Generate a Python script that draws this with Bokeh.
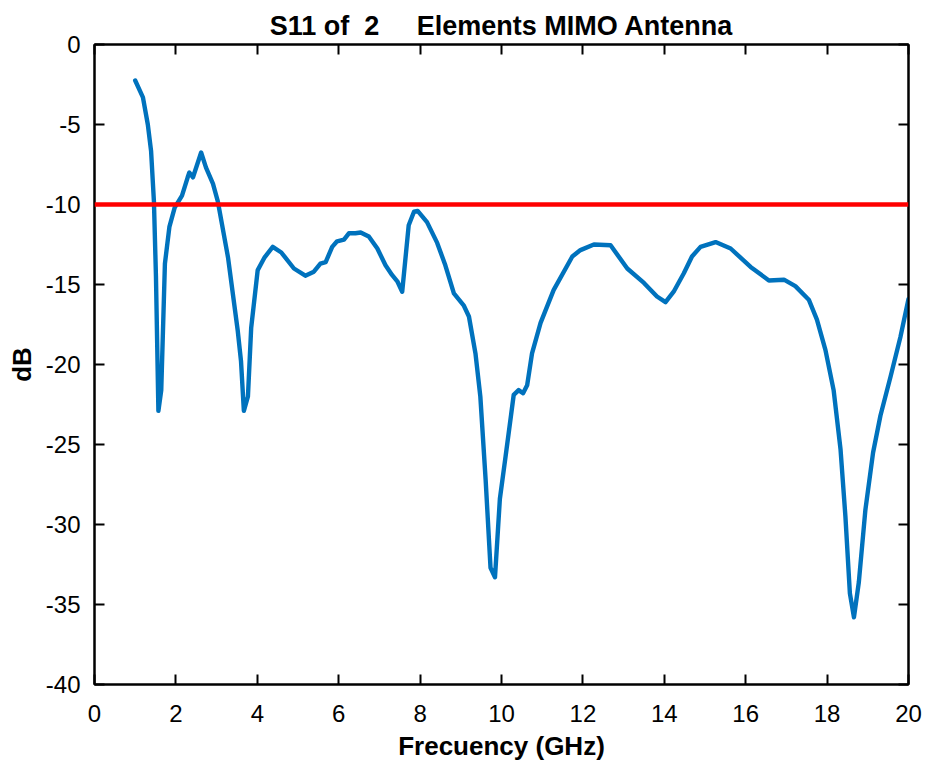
from bokeh.plotting import figure
from bokeh.models import LinearAxis, FixedTicker, Span, CustomJSTickFormatter, ColumnDataSource
from bokeh.embed import file_html
from bokeh.resources import INLINE

# ---- data ----
freq = [1.0, 1.19, 1.31, 1.39, 1.46, 1.51, 1.57, 1.64, 1.73, 1.84,
        1.97, 2.15, 2.29, 2.33, 2.42, 2.62, 2.74, 2.91, 3.03, 3.28,
        3.52, 3.6, 3.67, 3.77, 3.85, 4.01, 4.18, 4.38, 4.59, 4.9,
        5.18, 5.39, 5.55, 5.68, 5.84, 5.96, 6.13, 6.25, 6.41, 6.54,
        6.74, 6.95, 7.15, 7.31, 7.44, 7.56, 7.72, 7.85, 7.94, 8.17,
        8.42, 8.62, 8.83, 9.07, 9.2, 9.36, 9.48, 9.61, 9.73, 9.84,
        9.96, 10.1, 10.3, 10.42, 10.53, 10.63, 10.75, 10.96, 11.28, 11.74,
        11.94, 12.27, 12.68, 13.09, 13.5, 13.82, 14.03, 14.23, 14.48, 14.68,
        14.89, 15.26, 15.63, 16.12, 16.57, 16.94, 17.22, 17.55, 17.75, 17.96,
        18.16, 18.33, 18.45, 18.56, 18.66, 18.78, 18.94, 19.13, 19.31, 19.56,
        19.8, 20.0]
s11 = [-2.25, -3.3, -5.0, -6.65, -9.8, -14.5, -22.9, -21.6, -13.7, -11.4,
       -10.2, -9.45, -8.3, -8.0, -8.3, -6.75, -7.7, -8.7, -9.8, -13.3,
       -17.9, -19.8, -22.9, -22.0, -17.7, -14.1, -13.3, -12.65, -13.0, -14.0,
       -14.45, -14.2, -13.7, -13.6, -12.65, -12.3, -12.2, -11.8, -11.8, -11.75,
       -12.0, -12.75, -13.8, -14.4, -14.8, -15.45, -11.3, -10.45, -10.4, -11.1,
       -12.4, -13.8, -15.55, -16.3, -17.0, -19.3, -22.0, -27.2, -32.7, -33.3,
       -28.4, -25.75, -21.9, -21.6, -21.8, -21.3, -19.3, -17.4, -15.35, -13.25,
       -12.85, -12.5, -12.55, -14.0, -14.9, -15.75, -16.1, -15.45, -14.3, -13.25,
       -12.65, -12.35, -12.75, -13.9, -14.75, -14.7, -15.1, -15.95, -17.2, -19.1,
       -21.6, -25.3, -29.5, -34.3, -35.8, -33.6, -29.1, -25.5, -23.2, -20.75,
       -18.3, -15.9]
threshold_db = -10
x_ticks = [0, 2, 4, 6, 8, 10, 12, 14, 16, 18, 20]
x_tick_labels = ["0", "2", "4", "6", "8", "10", "12", "14", "16", "18", "20"]
y_ticks = [-40, -35, -30, -25, -20, -15, -10, -5, 0]
y_tick_labels = ["-40", "-35", "-30", "-25", "-20", "-15", "-10", "-5", "0"]
title_text = "S11 of\u00a0 2\u00a0\u00a0\u00a0\u00a0 Elements MIMO Antenna"

FONT = "Liberation Sans"

p = figure(width=936, height=763, x_range=(0, 20), y_range=(-40, 0),
           output_backend="svg", toolbar_location=None,
           min_border_left=94, min_border_right=28, min_border_top=44, min_border_bottom=78,
           title=title_text)
p.background_fill_color = "white"
p.border_fill_color = "white"
p.outline_line_color = "black"
p.outline_line_width = 2
p.xgrid.visible = False
p.ygrid.visible = False

p.title.text_font = FONT
p.title.text_font_size = "27px"
p.title.text_font_style = "bold"
p.title.text_color = "black"
p.title.align = "center"
p.title.standoff = 8

src = ColumnDataSource(data=dict(f=freq, s=s11))
p.line("f", "s", source=src, line_color="#0072BD", line_width=4.4,
       line_join="round", line_cap="round")
p.add_layout(Span(location=threshold_db, dimension="width", line_color="#FF0000", line_width=4.4))

def style_axis(ax):
    ax.axis_line_color = "black"
    ax.axis_line_width = 2
    ax.major_tick_in = 10
    ax.major_tick_out = 0
    ax.major_tick_line_color = "black"
    ax.major_tick_line_width = 2
    ax.minor_tick_line_color = None
    ax.major_label_text_font = FONT
    ax.major_label_text_font_size = "24px"
    ax.major_label_text_color = "black"
    ax.axis_label_text_font = FONT
    ax.axis_label_text_font_size = "26px"
    ax.axis_label_text_font_style = "bold"
    ax.axis_label_text_color = "black"

xa = p.xaxis[0]
ya = p.yaxis[0]
xa.ticker = FixedTicker(ticks=x_ticks)
ya.ticker = FixedTicker(ticks=y_ticks)
xa.major_label_overrides = {t: l for t, l in zip(x_ticks, x_tick_labels)}
ya.major_label_overrides = {t: l for t, l in zip(y_ticks, y_tick_labels)}
style_axis(xa)
style_axis(ya)
xa.axis_label = "Frecuency (GHz)"
ya.axis_label = "dB"
xa.major_label_standoff = 20
ya.major_label_standoff = 14
xa.axis_label_standoff = 6
ya.axis_label_standoff = 6

blank = CustomJSTickFormatter(code="return ''")
top = LinearAxis(ticker=FixedTicker(ticks=x_ticks), formatter=blank)
right = LinearAxis(ticker=FixedTicker(ticks=y_ticks), formatter=blank)
style_axis(top)
style_axis(right)
top.major_label_text_font_size = "1px"
right.major_label_text_font_size = "1px"
top.major_label_standoff = 0
right.major_label_standoff = 0
p.add_layout(top, "above")
p.add_layout(right, "right")

open("out.html", "w").write(file_html(p, INLINE))
